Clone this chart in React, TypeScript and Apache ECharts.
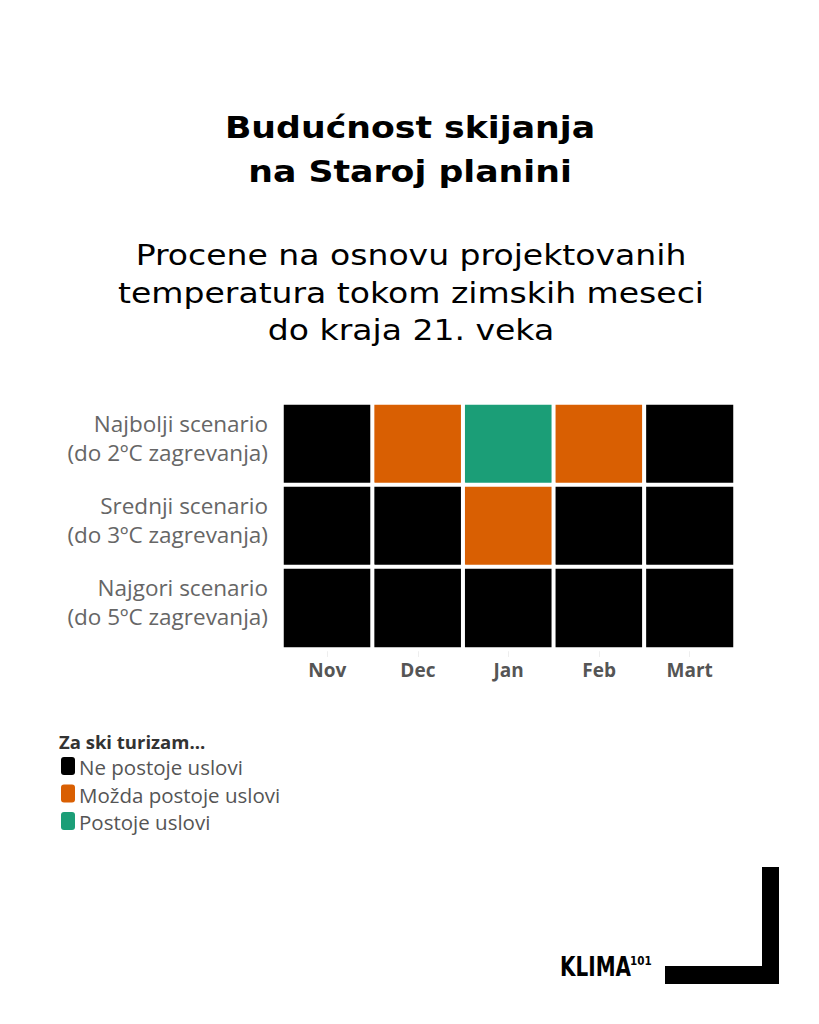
import React, { useEffect, useRef } from "react";
import * as echarts from "echarts";

const months = ["Nov", "Dec", "Jan", "Feb", "Mart"];
const scenarios = ["Najbolji scenario", "Srednji scenario", "Najgori scenario"];
const scenarioNotes = ["(do 2ºC zagrevanja)", "(do 3ºC zagrevanja)", "(do 5ºC zagrevanja)"];
// 0 = Ne postoje uslovi, 1 = Možda postoje uslovi, 2 = Postoje uslovi
const bestCase = [0, 1, 2, 1, 0];
const midCase = [0, 0, 1, 0, 0];
const worstCase = [0, 0, 0, 0, 0];
const categoryLabels = ["Ne postoje uslovi", "Možda postoje uslovi", "Postoje uslovi"];
const categoryColors = ["#000000", "#d95f02", "#1b9e77"];

const titleLines = ["Budućnost skijanja", "na Staroj planini"];
const subtitleLines = [
  "Procene na osnovu projektovanih",
  "temperatura tokom zimskih meseci",
  "do kraja 21. veka",
];
const legendTitle = "Za ski turizam...";

export default function App() {
  const ref = useRef<HTMLDivElement>(null);
  useEffect(() => {
    if (!ref.current) return;
    const chart = echarts.init(ref.current, null, { renderer: "svg" });
    const rows = [bestCase, midCase, worstCase];
    const data: any[] = [];
    rows.forEach((row, yi) =>
      row.forEach((v, xi) => {
        data.push([xi, yi, v]);
      })
    );
    const graphics: any[] = [];
    titleLines.forEach((t, i) =>
      graphics.push({
        type: "text",
        x: 410,
        y: 127 + i * 44,
        scaleX: 1.12,
        style: {
          text: t,
          fill: "#000",
          font: "bold 31px 'DejaVu Sans', sans-serif",
          textAlign: "center",
          textVerticalAlign: "middle",
        },
      })
    );
    subtitleLines.forEach((t, i) =>
      graphics.push({
        type: "text",
        x: 411,
        y: 255 + i * 37.5,
        scaleX: 1.14,
        style: {
          text: t,
          fill: "#000",
          font: "29px 'DejaVu Sans', sans-serif",
          textAlign: "center",
          textVerticalAlign: "middle",
        },
      })
    );
    graphics.push({
      type: "text",
      x: 59,
      y: 741,
      style: {
        text: legendTitle,
        fill: "#333",
        font: "bold 18.5px 'Open Sans', sans-serif",
        textVerticalAlign: "middle",
      },
    });
    categoryLabels.forEach((t, i) => {
      graphics.push({
        type: "rect",
        shape: { x: 61, y: 757 + i * 27.5, width: 14, height: 18, r: 3 },
        style: { fill: categoryColors[i] },
      });
      graphics.push({
        type: "text",
        x: 79,
        y: 767 + i * 27.5,
        style: {
          text: t,
          fill: "#555",
          font: "20.5px 'Open Sans', sans-serif",
          textVerticalAlign: "middle",
        },
      });
    });
    // logo
    graphics.push({
      type: "text",
      x: 560,
      y: 967,
      scaleX: 0.74,
      style: {
        text: "KLIMA",
        fill: "#000",
        font: "bold 27px 'DejaVu Sans', sans-serif",
        textVerticalAlign: "middle",
      },
    });
    graphics.push({
      type: "text",
      x: 630,
      y: 961,
      scaleX: 0.8,
      style: {
        text: "101",
        fill: "#000",
        font: "bold 13px 'DejaVu Sans', sans-serif",
        textVerticalAlign: "middle",
      },
    });
    graphics.push({ type: "rect", shape: { x: 762, y: 867, width: 17, height: 117 }, style: { fill: "#000" } });
    graphics.push({ type: "rect", shape: { x: 665, y: 966, width: 114, height: 18 }, style: { fill: "#000" } });

    const labelStyle = {
      color: "#666",
      fontSize: 22.5,
      lineHeight: 29,
      fontFamily: "'Open Sans', sans-serif",
      align: "right",
    };

    chart.setOption({
      animation: false,
      backgroundColor: "#fff",
      grid: { left: 282, top: 403, width: 453, height: 246, containLabel: false },
      visualMap: {
        type: "piecewise",
        show: false,
        dimension: 2,
        pieces: categoryColors.map((c, i) => ({ value: i, color: c, label: categoryLabels[i] })),
      },
      xAxis: {
        type: "category",
        data: months,
        axisLine: { show: false },
        axisTick: { show: true, alignWithLabel: true, length: 8, lineStyle: { color: "#eee" } },
        axisLabel: { color: "#555", fontSize: 19, fontWeight: "bold", fontFamily: "'Open Sans', sans-serif", margin: 11 },
        splitLine: { show: false },
      },
      yAxis: {
        type: "category",
        data: scenarios,
        inverse: true,
        axisLine: { show: false },
        axisTick: { show: false },
        axisLabel: {
          align: "right",
          margin: 14,
          formatter: (v: string, i: number) => `{a|${v}}\n{a|${scenarioNotes[i]}}\n{s|}`,
          rich: {
            a: labelStyle,
            s: { fontSize: 8, lineHeight: 12 },
          },
        },
        splitLine: { show: false },
      },
      series: [
        {
          type: "heatmap",
          data,
          itemStyle: { borderColor: "#fff", borderWidth: 4 },
          emphasis: { disabled: true },
        },
      ],
      graphic: graphics,
    });
    return () => chart.dispose();
  }, []);
  return (
    <div
      ref={ref}
      style={{ position: "absolute", left: 0, top: 0, width: 819, height: 1024, background: "#fff" }}
    />
  );
}
